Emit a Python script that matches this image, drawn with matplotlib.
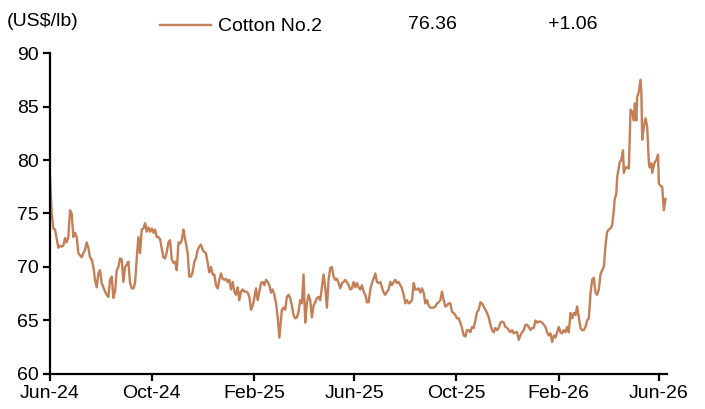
import matplotlib
matplotlib.use("Agg")
import matplotlib.pyplot as plt
import numpy as np
import pandas as pd

plt.rcParams['font.family'] = ['Liberation Sans', 'DejaVu Sans']

# Cotton No.2 futures, US$/lb (days counted from 1 Jun 2024)
start = pd.Timestamp("2024-06-01")
day = [0, 2, 4, 6, 10, 12, 14, 16, 18, 20, 22, 24, 26, 28, 30, 32, 34, 36, 38, 40,
       42, 44, 46, 48, 50, 52, 54, 56, 58, 60, 62, 64, 66, 68, 70, 72, 74, 76, 78, 80,
       82, 84, 86, 88, 90, 92, 94, 96, 98, 100, 102, 104, 106, 108, 110, 112, 114, 116, 118, 120,
       122, 124, 126, 128, 130, 132, 134, 136, 138, 140, 142, 144, 146, 148, 150, 152, 154, 156, 158, 160,
       161, 163, 165, 167, 169, 171, 173, 175, 177, 179, 181, 183, 185, 187, 189, 191, 193, 195, 197, 199,
       201, 203, 205, 207, 209, 211, 213, 215, 217, 219, 221, 223, 225, 227, 229, 231, 233, 235, 237, 239,
       241, 243, 245, 247, 249, 251, 253, 255, 257, 259, 261, 263, 265, 267, 269, 271, 273, 275, 278, 280,
       282, 284, 286, 288, 290, 292, 294, 296, 298, 300, 302, 304, 306, 308, 310, 312, 314, 316, 318, 320,
       322, 324, 326, 328, 330, 332, 334, 336, 338, 340, 342, 344, 346, 348, 350, 352, 354, 356, 358, 360,
       362, 364, 366, 368, 370, 372, 374, 376, 378, 380, 382, 384, 386, 388, 390, 392, 394, 396, 398, 400,
       402, 404, 406, 408, 410, 412, 414, 416, 418, 420, 422, 424, 426, 428, 430, 432, 434, 436, 438, 440,
       442, 444, 446, 448, 450, 452, 454, 456, 458, 460, 462, 464, 466, 468, 470, 472, 474, 476, 478, 480,
       482, 484, 486, 488, 490, 492, 494, 496, 498, 500, 502, 504, 506, 508, 510, 512, 514, 516, 518, 520,
       522, 524, 526, 528, 530, 532, 534, 536, 538, 540, 542, 544, 546, 548, 550, 552, 554, 556, 558, 560,
       562, 564, 566, 568, 570, 572, 574, 576, 578, 580, 582, 584, 586, 588, 590, 592, 594, 596, 598, 600,
       602, 604, 606, 608, 610, 612, 614, 616, 618, 620, 622, 624, 626, 628, 630, 632, 634, 636, 638, 640,
       642, 644, 646, 648, 650, 652, 654, 656, 658, 660, 662, 664, 666, 668, 670, 672, 674, 676, 677, 679,
       680, 683, 685, 687, 688, 690, 692, 694, 696, 698, 700, 701, 703, 704, 706, 708, 709, 710, 712, 714,
       716, 718, 719, 721, 722, 725, 727, 729, 730, 733, 734, 736, 738]
price = [78.4, 75.0, 73.6, 73.5, 71.8, 72.0, 71.9, 72.0, 72.7, 72.3, 72.8, 75.3, 75.0, 72.8, 73.2, 72.8, 71.3, 71.1, 70.9, 71.3,
         71.6, 72.3, 71.8, 70.9, 70.7, 70.0, 68.8, 68.1, 69.4, 69.7, 68.5, 68.1, 67.7, 67.4, 67.2, 68.8, 69.1, 67.1, 67.7, 69.7,
         70.0, 70.8, 70.7, 68.6, 70.0, 70.2, 70.5, 68.5, 68.0, 68.0, 68.5, 70.8, 72.8, 71.3, 73.5, 73.6, 74.1, 73.3, 73.7, 73.3,
         73.6, 73.2, 73.5, 72.8, 72.8, 72.6, 71.7, 70.9, 70.8, 71.4, 72.3, 72.5, 70.7, 70.4, 70.5, 69.7, 72.3, 72.2, 72.5, 73.5,
         73.0, 72.2, 71.3, 69.1, 69.1, 69.5, 70.5, 70.8, 71.6, 71.9, 72.1, 71.6, 71.4, 71.3, 70.4, 69.5, 70.0, 69.3, 69.3, 68.3,
         68.0, 68.8, 69.4, 68.9, 68.8, 68.9, 68.6, 68.8, 67.9, 68.6, 67.7, 67.4, 68.1, 66.9, 67.7, 67.9, 67.7, 67.7, 67.6, 67.2,
         66.0, 66.4, 67.1, 68.0, 66.9, 67.7, 68.5, 68.6, 68.3, 68.8, 68.6, 68.3, 67.6, 67.9, 67.4, 66.6, 65.3, 63.4, 66.0, 66.2,
         66.0, 67.2, 67.4, 67.1, 66.4, 65.5, 65.2, 65.3, 65.8, 66.9, 66.6, 69.3, 64.8, 66.6, 67.4, 66.9, 65.3, 66.4, 66.7, 67.1,
         67.2, 66.9, 68.1, 69.3, 68.1, 66.2, 68.8, 69.9, 70.0, 69.1, 68.8, 68.9, 68.5, 68.0, 68.5, 68.6, 68.8, 68.6, 68.3, 67.9,
         68.0, 68.6, 68.1, 68.5, 68.1, 67.9, 68.3, 67.7, 67.4, 66.7, 66.7, 67.9, 68.5, 68.9, 69.4, 68.6, 68.5, 68.6, 68.1, 67.6,
         67.4, 67.7, 67.9, 68.6, 68.3, 68.6, 68.8, 68.5, 68.6, 68.3, 68.0, 67.4, 66.6, 66.9, 66.6, 66.7, 66.9, 68.5, 67.9, 67.9,
         68.0, 67.6, 68.0, 67.6, 66.6, 66.9, 66.4, 66.2, 66.2, 66.2, 66.3, 66.6, 66.7, 66.9, 67.7, 66.9, 66.3, 66.4, 66.6, 66.6,
         65.8, 65.7, 65.5, 65.2, 65.2, 64.8, 64.3, 63.6, 63.5, 64.1, 64.1, 63.9, 64.4, 64.3, 65.0, 65.8, 66.0, 66.7, 66.6, 66.3,
         66.0, 65.7, 65.3, 64.6, 64.1, 63.9, 64.3, 64.1, 64.3, 64.8, 64.9, 64.8, 64.4, 64.3, 64.1, 63.9, 64.1, 63.8, 63.9, 63.9,
         63.2, 63.6, 63.9, 64.1, 64.6, 64.6, 64.4, 64.1, 64.3, 64.3, 65.0, 64.8, 64.9, 64.9, 64.8, 64.6, 64.4, 63.9, 63.6, 63.8,
         63.0, 63.6, 63.4, 63.9, 64.4, 63.9, 63.8, 64.1, 63.9, 64.4, 63.9, 65.7, 65.2, 65.7, 65.5, 66.3, 65.3, 64.3, 64.1, 64.1,
         64.4, 65.0, 65.2, 67.5, 68.8, 69.0, 67.6, 67.4, 67.9, 69.3, 69.7, 70.0, 72.0, 73.3, 73.5, 73.6, 73.9, 75.3, 76.3, 76.9,
         78.4, 79.8, 80.0, 80.9, 78.8, 79.3, 79.3, 79.2, 84.7, 84.5, 83.7, 85.3, 83.7, 85.9, 86.4, 87.5, 86.4, 81.9, 83.1, 83.9,
         83.1, 79.7, 79.3, 79.7, 78.8, 79.8, 80.0, 80.5, 77.8, 77.5, 77.5, 75.3, 76.36]

tick_dates = ["2024-06-01", "2024-10-01", "2025-02-01", "2025-06-01",
              "2025-10-01", "2026-02-01", "2026-06-01"]
tick_labels = ["Jun-24", "Oct-24", "Feb-25", "Jun-25", "Oct-25", "Feb-26", "Jun-26"]

series_name = "Cotton No.2"
last_value = "76.36"
change = "+1.06"
unit = "(US$/lb)"

dates = start + pd.to_timedelta(day, unit="D")
color = "#C47F56"

fig = plt.figure(figsize=(7.05, 4.09), dpi=100)
ax = fig.add_axes([0.0709, 0.0856, 0.8755, 0.7848])

line, = ax.plot(dates, price, color=color, lw=1.7, label=series_name)

ax.set_ylim(60, 90)
ax.set_yticks(np.arange(60, 91, 5))
ax.set_xlim(start, start + pd.Timedelta(days=740))
ax.set_xticks(pd.to_datetime(tick_dates))
ax.set_xticklabels(tick_labels)

for s in ["top", "right"]:
    ax.spines[s].set_visible(False)
for s in ["left", "bottom"]:
    ax.spines[s].set_linewidth(1.6)
ax.tick_params(axis="both", direction="out", length=5, width=1.6, labelsize=14, pad=3)

fig.text(0.01, 0.947, unit, fontsize=14, va="center", ha="left")
fig.legend(handles=[line], loc="center left", bbox_to_anchor=(0.227, 0.935),
           frameon=False, fontsize=14, handlelength=2.6, handletextpad=0.4,
           borderaxespad=0, borderpad=0)
fig.text(0.579, 0.94, last_value, fontsize=14, va="center", ha="left")
fig.text(0.777, 0.94, change, fontsize=14, va="center", ha="left")

fig.savefig("out.png", dpi=100)
